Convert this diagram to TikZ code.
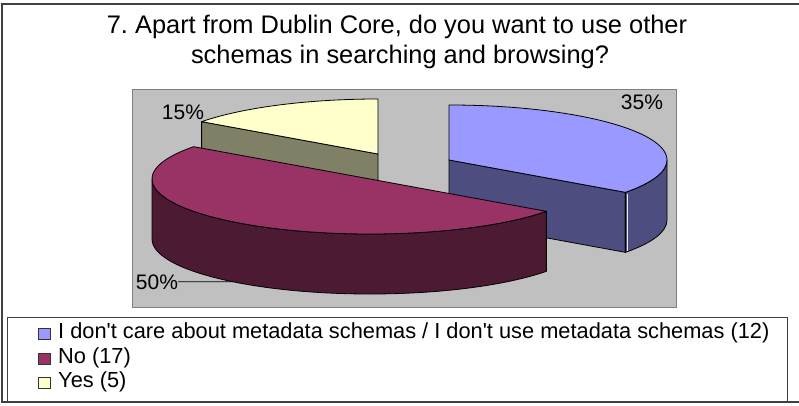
\documentclass[tikz,border=0pt]{standalone}
\usepackage{fontspec}
\setmainfont{Liberation Sans}
\usetikzlibrary{calc}
\definecolor{careTop}{RGB}{153,153,255}
\definecolor{careSide}{RGB}{77,77,128}
\definecolor{noTop}{RGB}{153,51,102}
\definecolor{noSide}{RGB}{77,26,51}
\definecolor{yesTop}{RGB}{255,255,204}
\definecolor{yesSide}{RGB}{128,128,102}
\definecolor{plotgray}{RGB}{192,192,192}
\frenchspacing
\tikzset{
    slice/.style={draw=black, line width=0.8pt, line join=round},
    pct/.style={anchor=base, inner sep=0pt, font=\fontsize{21}{24}\selectfont},
    heading/.style={anchor=base, inner sep=0pt, font=\fontsize{25.4}{30}\selectfont},
    key/.style={draw=black!80, line width=0.8pt, minimum width=12pt, minimum height=11pt, inner sep=0pt},
    keytext/.style={anchor=base west, inner sep=0pt, font=\fontsize{21.8}{24}\selectfont},
}

\begin{document}
\begin{tikzpicture}[x=1pt, y=-1pt]
    \useasboundingbox (0,0) rectangle (799,406);
    \begin{scope}
        \clip (0,0) rectangle (799,406);
        \draw[line width=1.2pt, black!75] (2,4) rectangle (812,402);
    \end{scope}

    % title
    \node[heading] (title-a) at (397,34) {7. Apart from Dublin Core, do you want to use other};
    \node[heading] (title-b) at (400,64) {schemas in searching and browsing?};

    % plot area
    \filldraw[fill=plotgray, draw=black!50, line width=0.8pt] (132,89) rectangle (676,307);

    \coordinate (care-c) at (449,160);
    \coordinate (no-c) at (370,179);
    \coordinate (yes-c) at (378,154);

    % yes (back)
    \filldraw[slice, fill=yesSide] (yes-c) -- ($(yes-c)+(216:218 and 55)$) -- ++(0,60) -- ($(yes-c)+(0,60)$) -- cycle;
    \filldraw[slice, fill=yesTop] (yes-c) -- ++(216:218 and 55)
        arc[start angle=216, end angle=270, x radius=218, y radius=55] -- cycle;

    % don't care
    \filldraw[slice, fill=careSide] (care-c) -- ($(care-c)+(36:218 and 55)$) -- ++(0,60) -- ($(care-c)+(0,60)$) -- cycle;
    \filldraw[slice, fill=careSide] ($(care-c)+(0:218 and 55)$)
        arc[start angle=0, end angle=36, x radius=218, y radius=55] -- ++(0,60)
        arc[start angle=36, end angle=0, x radius=218, y radius=55] -- cycle;
    \draw[white!85!gray, line width=0.8pt] ($(care-c)+(36:218 and 55)+(1.6,1.5)$) -- ++(0,57);
    \filldraw[slice, fill=careTop] (care-c) -- ++(-90:218 and 55)
        arc[start angle=-90, end angle=36, x radius=218, y radius=55] -- cycle;

    % no (front)
    \filldraw[slice, fill=noSide] ($(no-c)+(36:218 and 55)$)
        arc[start angle=36, end angle=180, x radius=218, y radius=55] -- ++(0,60)
        arc[start angle=180, end angle=36, x radius=218, y radius=55] -- cycle;
    \filldraw[slice, fill=noTop] (no-c) -- ++(36:218 and 55)
        arc[start angle=36, end angle=216, x radius=218, y radius=55] -- cycle;

    % percentages
    \node[pct] (lbl-care) at (642,110) {35\%};
    \node[pct] (lbl-yes) at (183,120) {15\%};
    \node[pct] (lbl-no) at (157,289) {50\%};
    \coordinate (no-rim) at ($(no-c)+(0,60)+(129:218 and 55)$);
    \draw[line width=0.8pt] (lbl-no.east) -- (no-rim);

    % legend
    \filldraw[fill=white, draw=black!75, line width=0.8pt] (7,317) rectangle (787,401);
    \node[key, fill=careTop] (key-care) at (44.5,333.5) {};
    \node[key, fill=noTop] (key-no) at (44.5,358.5) {};
    \node[key, fill=yesTop] (key-yes) at (44.5,382.5) {};
    \node[keytext] (txt-care) at (58,338) {I don\textquotesingle t care about metadata schemas / I don\textquotesingle t use metadata schemas (12)};
    \node[keytext] (txt-no) at (58,363) {No (17)};
    \node[keytext] (txt-yes) at (58,387) {Yes (5)};
\end{tikzpicture}
\end{document}
